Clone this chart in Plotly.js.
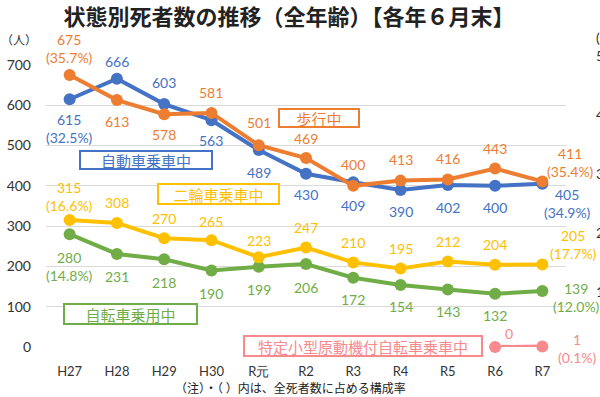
<!DOCTYPE html>
<html>
<head>
<meta charset="utf-8">
<script src="https://cdn.plot.ly/plotly-3.0.1.min.js"></script>
<style>html,body{margin:0;padding:0;background:#fff;}#chart{width:600px;height:397px;}</style>
</head>
<body>
<div id="chart"></div>
<script>
// ---- data ----
const categories = ['H27','H28','H29','H30','R元','R2','R3','R4','R5','R6','R7'];
const walking    = [675,613,578,581,501,469,400,413,416,443,411];
const car        = [615,666,603,563,489,430,409,390,402,400,405];
const twoWheel   = [315,308,270,265,223,247,210,195,212,204,205];
const bicycle    = [280,231,218,190,199,206,172,154,143,132,139];
const scooterCategories = ['R6','R7'];
const scooter    = [0,1];
const walkingPct  = ['35.7%','35.4%'];
const carPct      = ['32.5%','34.9%'];
const twoWheelPct = ['16.6%','17.7%'];
const bicyclePct  = ['14.8%','12.0%'];
const scooterPct  = ['0.1%'];
const yTicks = [0,100,200,300,400,500,600,700];
const rightTickLabels = ['(%)','50','40','30','20','10'];

// ---- styles / label placement ----
const C = {walk:'#ED7D31', car:'#4472C4', two:'#FFC000', bike:'#70AD47', scoot:'#F8898C'};
const numFont = 'Lato, "Noto Sans", sans-serif';
const jpFont = '"Noto Sans CJK JP", sans-serif';
const place = {
  walk: {dy:[27,-21,-20,20,23,20,21,21,21,20,19], dx:28},
  car:  {dy:[-29,17,22,-20,-22,-21,-23,-22,-22,-22,-20], dx:25},
  two:  {dy:[24,20,20,19,17,20,20,20,20,20,20], dx:31},
  bike: {dy:[-32,-23,-23,-23,-23,-23,-22,-22,-22,-22,-6], dx:34}
};

function line(x, y, color){
  return {x:x, y:y, type:'scatter', mode:'lines+markers', cliponaxis:false,
    line:{color:color, width:4}, marker:{color:color, size:12}, hoverinfo:'skip', showlegend:false};
}
const traces = [
  line(categories, bicycle, C.bike),
  line(categories, twoWheel, C.two),
  line(categories, car, C.car),
  line(categories, walking, C.walk),
  line(scooterCategories, scooter, C.scoot)
];

const ann = [];
function labels(vals, pct, color, pl){
  const n = vals.length;
  vals.forEach((v,i)=>{
    let t = String(v);
    if(i===0) t = v + '<br>(' + pct[0] + ')';
    if(i===n-1) t = v + '<br>(' + pct[1] + ')';
    ann.push({x:categories[i], y:v, xref:'x', yref:'y', text:t, showarrow:false,
      xanchor:'center', yanchor:'middle',
      xshift: i===n-1 ? pl.dx : 0, yshift: pl.dy[i],
      font:{family:numFont, size:14, color:color}});
  });
}
labels(walking, walkingPct, C.walk, place.walk);
labels(car, carPct, C.car, place.car);
labels(twoWheel, twoWheelPct, C.two, place.two);
labels(bicycle, bicyclePct, C.bike, place.bike);
ann.push({x:scooterCategories[0], y:scooter[0], xref:'x', yref:'y', text:String(scooter[0]), showarrow:false,
  xanchor:'center', yanchor:'middle', xshift:14, yshift:14, font:{family:numFont, size:14, color:C.scoot}});
ann.push({x:scooterCategories[1], y:scooter[1], xref:'x', yref:'y', text:scooter[1]+'<br>('+scooterPct[0]+')', showarrow:false,
  xanchor:'center', yanchor:'middle', xshift:35, yshift:-2, font:{family:numFont, size:14, color:C.scoot}});

// category boxes
function box(text, x, y, w, h, color){
  ann.push({x:x, y:y, xref:'x', yref:'y', text:text, showarrow:false, width:w, height:h,
    xanchor:'center', yanchor:'middle',
    bordercolor:color, borderwidth:2, borderpad:0, bgcolor:'#fff',
    font:{family:jpFont, size:15, color:color}});
}
box('自動車乗車中', 1.616, 464, 130, 16, C.car);
box('歩行中', 5.276, 568, 78, 16, C.walk);
box('二輪車乗車中', 3.15, 380, 119, 18, C.two);
box('自転車乗用中', 1.288, 82, 131, 18, C.bike);
box('特定小型原動機付自転車乗車中', 6.207, 2.5, 236, 18, C.scoot);

// other texts (pixel positions converted to paper coords)
const px = v => (v-46)/520, py = v => (347-v)/282;
ann.push({xref:'paper', yref:'paper', x:px(19), y:py(40), xanchor:'center', yanchor:'middle', text:'（人）', showarrow:false,
  font:{family:jpFont, size:12, color:'#333'}});
ann.push({xref:'paper', yref:'paper', x:px(290), y:py(387), xanchor:'center', yanchor:'middle', text:'（注）・（ ）内は、全死者数に占める構成率', showarrow:false,
  font:{family:jpFont, size:12, color:'#222'}});
const rightY = [37,55,114,173,232,291];
rightTickLabels.forEach((t,i)=>{
  ann.push({xref:'paper', yref:'paper', x:px(594), y:py(rightY[i]), xanchor:'left', yanchor:'middle', text:t, showarrow:false,
    font:{family:numFont, size:14, color:'#333'}});
});

const layout = {
  width:600, height:397,
  margin:{l:46, r:34, t:65, b:50},
  paper_bgcolor:'#fff', plot_bgcolor:'#fff',
  title:{text:'状態別死者数の推移（全年齢）【各年６月末】', x:289/600, xref:'container', xanchor:'center',
    y:1-17/397, yref:'container', yanchor:'middle',
    font:{family:jpFont, size:22, color:'#222', weight:'bold'}},
  xaxis:{type:'category', range:[-0.5,10.5], showgrid:false, zeroline:false, showline:false, ticks:'',
    tickfont:{family:numFont, size:13, color:'#333'}, ticklabelstandoff:15, fixedrange:true},
  yaxis:{range:[0,700], tickvals:yTicks, showgrid:true, gridcolor:'#D9D9D9', gridwidth:1, zeroline:false, showline:false,
    ticks:'', tickfont:{family:numFont, size:14, color:'#333'}, ticklabelstandoff:14, fixedrange:true},
  annotations:ann,
  showlegend:false
};
Plotly.newPlot('chart', traces, layout, {displayModeBar:false, staticPlot:true});
</script>
</body>
</html>
